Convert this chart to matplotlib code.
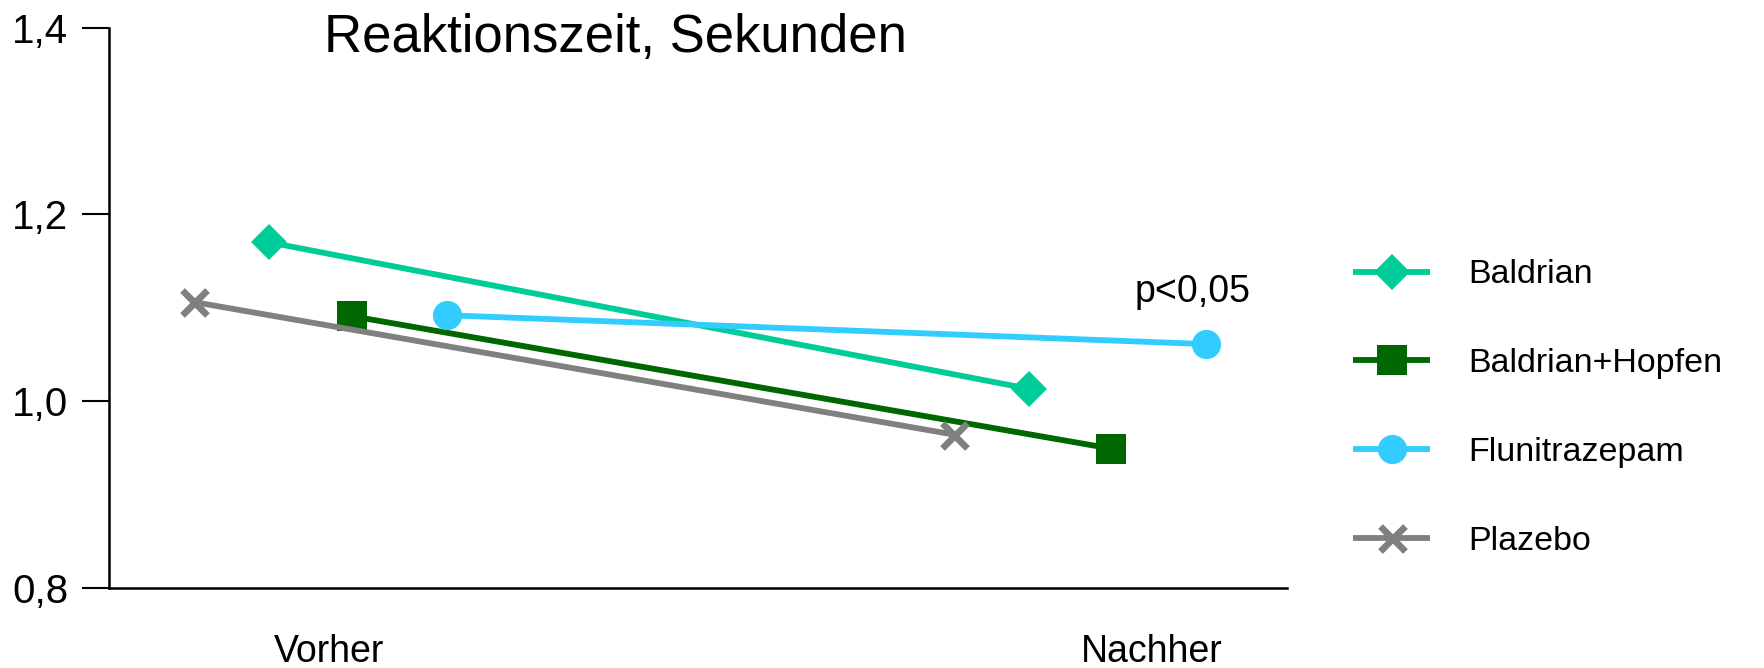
import matplotlib
matplotlib.use("Agg")
import matplotlib.pyplot as plt

plt.rcParams["font.family"] = ["Liberation Sans", "DejaVu Sans"]

# data
categories = ["Vorher", "Nachher"]
series = ["Baldrian", "Baldrian+Hopfen", "Flunitrazepam", "Plazebo"]
baldrian = [1.170, 1.013]
baldrian_hopfen = [1.091, 0.949]
flunitrazepam = [1.092, 1.061]
plazebo = [1.106, 0.964]
p_label = "p<0,05"

values = [baldrian, baldrian_hopfen, flunitrazepam, plazebo]
colors = ["#00CC99", "#006600", "#33CCFF", "#808080"]
markers = ["D", "s", "o", "x"]
msizes = [18, 21, 21, 18]
offsets = [-0.061, 0.047, 0.172, -0.160]   # horizontal shift of each series inside a group

fig = plt.figure(figsize=(17.65, 6.68), dpi=100)
ax = fig.add_axes([0.0618, 0.1202, 0.6674, 0.8383])

group_x = list(range(len(categories)))
for name, vals, col, mk, ms, off in zip(series, values, colors, markers, msizes, offsets):
    xs = [g + off for g in group_x]
    ax.plot(xs, vals, color=col, lw=4.2, marker=mk, ms=ms, mew=4.8 if mk == "x" else 0,
            mec=col, label=name, solid_capstyle="butt")

ax.set_xlim(-0.272, 1.278)
ax.set_ylim(0.8, 1.4)
ax.set_yticks([0.8, 1.0, 1.2, 1.4])
ax.set_yticklabels(["0,8", "1,0", "1,2", "1,4"])
ax.set_xticks([0.017, 1.1])
ax.set_xticklabels(categories)

for s in ["top", "right"]:
    ax.spines[s].set_visible(False)
for s in ["left", "bottom"]:
    ax.spines[s].set_linewidth(1.8)
ax.tick_params(axis="y", direction="out", length=19.5, width=1.5, pad=10, labelsize=29)
ax.tick_params(axis="x", length=0, pad=33, labelsize=27)

# p-value note above the Flunitrazepam end point
ax.annotate(p_label, xy=(1 + offsets[2], flunitrazepam[1]), xytext=(-10, 30),
            textcoords="offset points", ha="center", va="baseline", fontsize=27)

fig.text(0.3488, 1 - 52 / 668, "Reaktionszeit, Sekunden", ha="center", va="baseline",
         fontsize=38)

ax.legend(loc="upper left", bbox_to_anchor=(0.759, 0.632), bbox_transform=fig.transFigure,
          frameon=False, fontsize=24.5, handlelength=2.25, handletextpad=1.12,
          labelspacing=1.7, borderaxespad=0)

fig.savefig("out.png", dpi=100)
